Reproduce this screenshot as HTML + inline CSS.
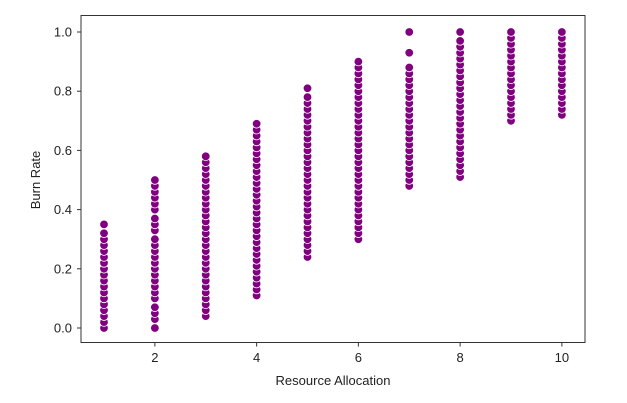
<!DOCTYPE html>
<html><head><meta charset="utf-8"><style>
body{margin:0;background:#fff;}
svg{display:block;font-family:"Liberation Sans","DejaVu Sans",sans-serif;}
</style></head><body>
<svg id="chart" width="627" height="403">
<rect width="627" height="403" fill="#fff"/>
<g id="marks"></g>
<rect x="81" y="15.5" width="504" height="327" fill="none" stroke="#333" stroke-width="1"/>
<g id="xticks"></g>
<g id="yticks"></g>
<text x="333" y="385" font-size="13" fill="#222" text-anchor="middle">Resource Allocation</text>
<text transform="translate(40,180) rotate(-90)" font-size="13" fill="#222" text-anchor="middle">Burn Rate</text>
</svg>
<script>
const categories=[1,2,3,4,5,6,7,8,9,10];
const s1=[0,0.02,0.04,0.06,0.08,0.1,0.12,0.14,0.16,0.18,0.2,0.22,0.24,0.26,0.28,0.3,0.32,0.35];
const s2=[0,0.03,0.05,0.07,0.1,0.12,0.14,0.16,0.18,0.2,0.22,0.24,0.26,0.28,0.3,0.33,0.35,0.37,0.4,0.42,0.44,0.46,0.48,0.5];
const s3=[0.04,0.06,0.08,0.1,0.12,0.14,0.16,0.18,0.2,0.22,0.24,0.26,0.28,0.3,0.32,0.34,0.36,0.38,0.4,0.42,0.44,0.46,0.48,0.5,0.52,0.54,0.56,0.58];
const s4=[0.11,0.13,0.15,0.17,0.19,0.21,0.23,0.25,0.27,0.29,0.31,0.33,0.35,0.37,0.39,0.41,0.43,0.45,0.47,0.49,0.51,0.53,0.55,0.57,0.59,0.61,0.63,0.65,0.67,0.69];
const s5=[0.24,0.26,0.28,0.3,0.32,0.34,0.36,0.38,0.4,0.42,0.44,0.46,0.48,0.5,0.52,0.54,0.56,0.58,0.6,0.62,0.64,0.66,0.68,0.7,0.72,0.74,0.76,0.78,0.81];
const s6=[0.3,0.32,0.34,0.36,0.38,0.4,0.42,0.44,0.46,0.48,0.5,0.52,0.54,0.56,0.58,0.6,0.62,0.64,0.66,0.68,0.7,0.72,0.74,0.76,0.78,0.8,0.82,0.84,0.86,0.88,0.9];
const s7=[0.48,0.5,0.52,0.54,0.56,0.58,0.6,0.62,0.64,0.66,0.68,0.7,0.72,0.74,0.76,0.78,0.8,0.82,0.84,0.86,0.88,0.93,1.0];
const s8=[0.51,0.53,0.55,0.57,0.59,0.61,0.63,0.65,0.67,0.69,0.71,0.73,0.75,0.77,0.79,0.81,0.83,0.85,0.87,0.89,0.91,0.93,0.95,0.97,1.0];
const s9=[0.7,0.72,0.74,0.76,0.78,0.8,0.82,0.84,0.86,0.88,0.9,0.92,0.94,0.96,0.98,1.0];
const s10=[0.72,0.74,0.76,0.78,0.8,0.82,0.84,0.86,0.88,0.9,0.92,0.94,0.96,0.98,1.0];
const seriesValues=[s1,s2,s3,s4,s5,s6,s7,s8,s9,s10];
const xTickValues=[2,4,6,8,10];
const yTickValues=[0,0.2,0.4,0.6,0.8,1.0];
const yTickLabels=["0.0","0.2","0.4","0.6","0.8","1.0"];

const NS="http://www.w3.org/2000/svg";
function xScale(v){return 104+(v-1)*50.875;}
function yScale(v){return 328-v*296;}
const marks=document.getElementById('marks');
categories.forEach((c,i)=>{
  seriesValues[i].forEach(v=>{
    const p=document.createElementNS(NS,'circle');
    p.setAttribute('cx',xScale(c));p.setAttribute('cy',yScale(v));p.setAttribute('r',4.3);
    p.setAttribute('fill','#800080');p.setAttribute('stroke','#fff');p.setAttribute('stroke-width','0.8');
    
    
    marks.appendChild(p);
  });
});
const xt=document.getElementById('xticks');
xTickValues.forEach(v=>{
  const x=xScale(v);
  const l=document.createElementNS(NS,'line');
  l.setAttribute('x1',x);l.setAttribute('x2',x);l.setAttribute('y1',342.5);l.setAttribute('y2',346.5);l.setAttribute('stroke','#333');
  
  
  xt.appendChild(l);
  const t=document.createElementNS(NS,'text');
  t.setAttribute('x',x);t.setAttribute('y',362);t.setAttribute('font-size','13');t.setAttribute('fill','#222');t.setAttribute('text-anchor','middle');
  t.textContent=v;
  
  
  xt.appendChild(t);
});
const yt=document.getElementById('yticks');
yTickValues.forEach((v,i)=>{
  const y=yScale(v);
  const l=document.createElementNS(NS,'line');
  l.setAttribute('x1',77);l.setAttribute('x2',81);l.setAttribute('y1',y);l.setAttribute('y2',y);l.setAttribute('stroke','#333');
  
  
  yt.appendChild(l);
  const t=document.createElementNS(NS,'text');
  t.setAttribute('x',72);t.setAttribute('y',y+4.5);t.setAttribute('font-size','13');t.setAttribute('fill','#222');t.setAttribute('text-anchor','end');
  t.textContent=yTickLabels[i];
  
  
  yt.appendChild(t);
});
</script>
</body></html>
